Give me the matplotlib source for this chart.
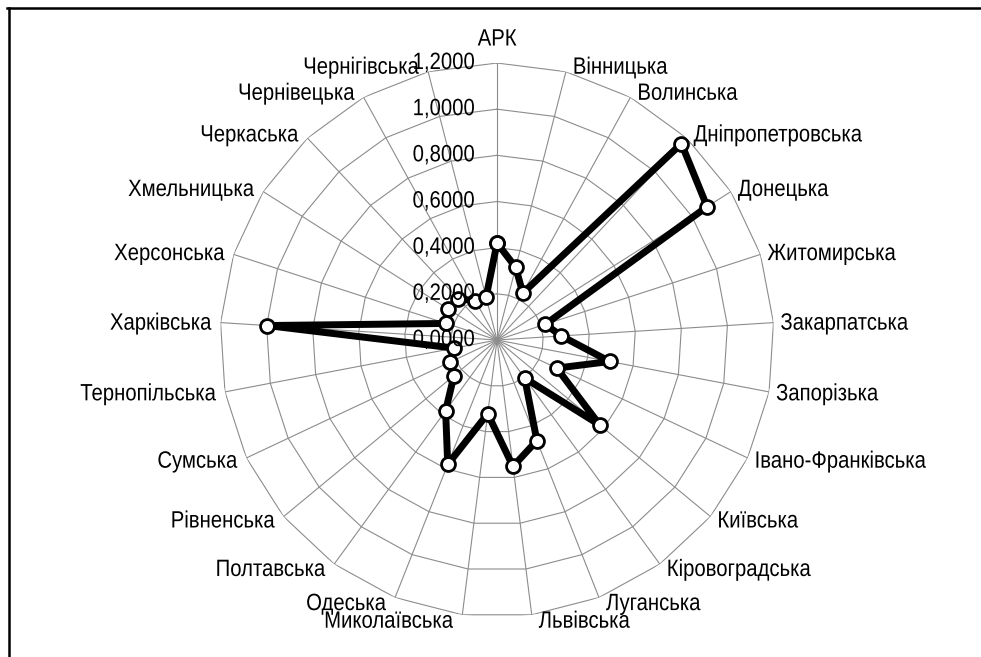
import numpy as np
import matplotlib.pyplot as plt
from matplotlib.lines import Line2D
from matplotlib.patheffects import AbstractPathEffect
from matplotlib.transforms import Affine2D

plt.rcParams['font.family'] = ['Liberation Sans', 'DejaVu Sans']

regions = ['АРК', 'Вінницька', 'Волинська', 'Дніпропетровська', 'Донецька',
           'Житомирська', 'Закарпатська', 'Запорізька', 'Івано-Франківська',
           'Київська', 'Кіровоградська', 'Луганська', 'Львівська', 'Миколаївська',
           'Одеська', 'Полтавська', 'Рівненська', 'Сумська', 'Тернопільська',
           'Харківська', 'Херсонська', 'Хмельницька', 'Черкаська', 'Чернівецька',
           'Чернігівська']
values = [0.42, 0.325, 0.232, 1.167, 1.078,
          0.22, 0.279, 0.497, 0.286,
          0.578, 0.204, 0.469, 0.552, 0.322,
          0.58, 0.379, 0.242, 0.227, 0.188,
          0.998, 0.232, 0.25, 0.244, 0.195,
          0.191]
ring_values = [0.2, 0.4, 0.6, 0.8, 1.0, 1.2]
ring_labels = ['0,0000', '0,2000', '0,4000', '0,6000', '0,8000', '1,0000', '1,2000']


class Narrow(AbstractPathEffect):
    # squeeze text horizontally (the original uses a narrow font)
    def __init__(self, sx=0.86, ha='left'):
        super().__init__()
        self.sx = sx
        self.ha = ha

    def draw_path(self, renderer, gc, tpath, affine, rgbFace=None):
        ext = tpath.get_extents()
        if self.ha == 'right':
            x0 = ext.x1
        elif self.ha == 'center':
            x0 = (ext.x0 + ext.x1) / 2
        else:
            x0 = 0
        t = Affine2D().translate(-x0, 0).scale(self.sx, 1).translate(x0, 0)
        renderer.draw_path(gc, tpath, t + affine, rgbFace)


n = len(regions)
angles = np.arange(n) * 2 * np.pi / n
ang_c = np.append(angles, angles[0])
val_c = np.append(values, values[0])

fig = plt.figure(figsize=(9.81, 6.57), dpi=100)
ax = fig.add_axes([0.2243, 0.0609, 0.5647, 0.8432], projection='polar')
ax.set_theta_zero_location('N')
ax.set_theta_direction(-1)
ax.set_ylim(0, 1.2)
ax.grid(False)
ax.set_xticks([])
ax.set_yticks([])
ax.spines['polar'].set_visible(False)

grid_col = '#8c8c8c'
for r in ring_values:
    ax.plot(ang_c, [r] * (n + 1), color=grid_col, lw=0.8, zorder=1)
for a in angles:
    ax.plot([a, a], [0, 1.2], color=grid_col, lw=0.8, zorder=1)

ax.plot(ang_c, val_c, color='black', lw=5, zorder=3,
        marker='o', markersize=10, markerfacecolor='white',
        markeredgecolor='black', markeredgewidth=2, solid_joinstyle='round')

fs = 17
# radial value labels along the vertical axis
for i, lab in enumerate(ring_labels):
    ax.annotate(lab, xy=(0, i * 0.2), xytext=(-16, 0), textcoords='offset points',
                ha='right', va='center', fontsize=fs, zorder=4,
                path_effects=[Narrow(ha='right')])

# category labels outside the outer ring
for a, name in zip(angles, regions):
    s, c = np.sin(a), np.cos(a)
    if abs(s) < 0.05:
        ha = 'center'
        dx, dy = 0, 9 if c > 0 else -9
        va = 'bottom' if c > 0 else 'top'
    else:
        ha = 'left' if s > 0 else 'right'
        dx = 5 if s > 0 else -6.5
        dy = 4 * c - 1
        va = 'center'
    ax.annotate(name, xy=(a, 1.2), xytext=(dx, dy), textcoords='offset points',
                ha=ha, va=va, fontsize=fs, annotation_clip=False,
                path_effects=[Narrow(ha=ha)])

fig.add_artist(Line2D([0.0075, 1.0], [1 - 7.5 / 657, 1 - 7.5 / 657],
                      transform=fig.transFigure, color='black', lw=1.8))
fig.add_artist(Line2D([8.5 / 981, 8.5 / 981], [0, 1 - 7.5 / 657],
                      transform=fig.transFigure, color='black', lw=1.8))

fig.savefig('out.png', dpi=100, facecolor='white')
